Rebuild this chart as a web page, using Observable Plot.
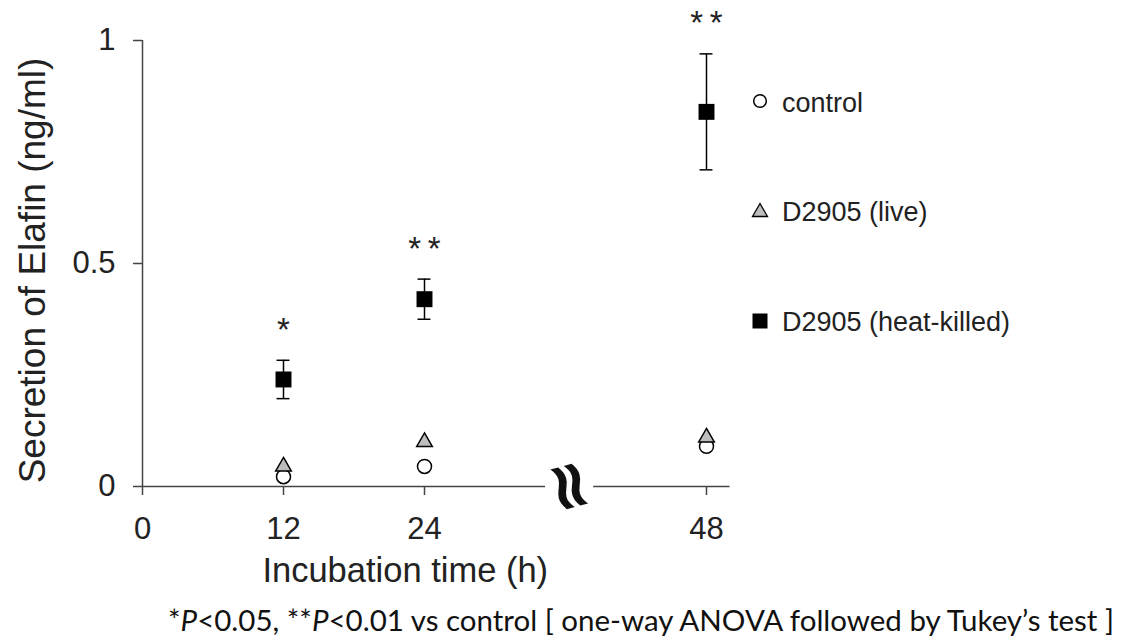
<!DOCTYPE html>
<html>
<head>
<meta charset="utf-8">
<script src="https://cdn.jsdelivr.net/npm/d3@7"></script>
<script src="https://cdn.jsdelivr.net/npm/@observablehq/plot@0.6"></script>
<style>
  body { margin: 0; background: #fff; }
  #wrap { position: relative; width: 1127px; height: 639px; overflow: hidden; font-family: "Liberation Sans", Arial, sans-serif; color: #222; }
  #chart { position: absolute; left: 0; top: 0; }
  .legmark { position: absolute; left: 751px; width: 18px; height: 18px; }
  .legtext { position: absolute; left: 782px; font-size: 27px; line-height: 27px; white-space: nowrap; color: #222; }
  #caption { position: absolute; left: 168px; top: 605px; font-family: Lato, "Open Sans", sans-serif; font-size: 29.5px; line-height: 29.5px; white-space: nowrap; color: #111; }
</style>
</head>
<body>
<div id="wrap">
  <div id="chart"></div>
  <div id="legend"></div>
  <div id="caption"></div>
</div>
<script>
// ---- data ----
const times = [12, 24, 48];                 // incubation time (h)
const control = [0.022, 0.045, 0.09];       // ng/ml
const live = [0.045, 0.10, 0.11];           // ng/ml
const heatKilled = [0.24, 0.42, 0.84];      // ng/ml
const heatKilledErr = [0.043, 0.045, 0.13]; // ± error
const significance = ["*", "**", "**"];
const xTicks = [0, 12, 24, 48];
const yTicks = [0, 0.5, 1];
const xDomain = [0, 50];
const yDomain = [0, 1];
const axisBreak = [34.3, 38.4];             // x-axis break between 24 h and 48 h
const seriesNames = ["control", "D2905 (live)", "D2905 (heat-killed)"];
const xLabel = "Incubation time (h)";
const yLabel = "Secretion of Elafin (ng/ml)";

const rows = times.map((t, i) => ({
  t, control: control[i], live: live[i], hk: heatKilled[i], err: heatKilledErr[i], sig: significance[i]
}));
const axisSegments = [[xDomain[0], axisBreak[0]], [axisBreak[1], xDomain[1]]];

const axisColor = "#444";
const chart = Plot.plot({
  width: 1127,
  height: 600,
  marginLeft: 142,
  marginRight: 397.5,
  marginTop: 40,
  marginBottom: 114,
  style: { fontFamily: "'Liberation Sans', Arial, sans-serif", background: "white", color: "#222", overflow: "visible" },
  x: { domain: xDomain },
  y: { domain: yDomain },
  marks: [
    Plot.axisY(yTicks, { tickSize: 9, tickPadding: 18, fontSize: 31, stroke: axisColor, strokeWidth: 1.5, label: null, tickFormat: d => String(d) }),
    Plot.axisX(xTicks, { tickSize: 9, tickPadding: 21, fontSize: 31, stroke: axisColor, strokeWidth: 1.5, label: null, tickFormat: d => String(d) }),
    Plot.ruleX([xDomain[0]], { y1: yDomain[0], y2: yDomain[1], stroke: axisColor, strokeWidth: 1.5 }),
    Plot.ruleY(axisSegments, { y: () => 0, x1: d => d[0], x2: d => d[1], stroke: axisColor, strokeWidth: 1.5 }),
    Plot.text(["\u2248"], { x: () => (axisBreak[0] + axisBreak[1]) / 2, y: () => 0, rotate: 75, fontSize: 68, fontFamily: "DejaVu Sans", fontWeight: "bold", fill: "#111", lineAnchor: "middle" }),
    // axis titles
    Plot.text([yLabel], { frameAnchor: "left", textAnchor: "middle", rotate: -90, dx: -109, dy: 7, fontSize: 37, fill: "#222", lineAnchor: "middle" }),
    Plot.text([xLabel], { frameAnchor: "bottom", dx: -31, dy: 84.5, fontSize: 34.5, fill: "#222", lineAnchor: "middle" }),
    // control
    Plot.dot(rows, { x: "t", y: "control", r: 7, fill: "white", stroke: "black", strokeWidth: 1.5 }),
    // live
    Plot.dot(rows, { x: "t", y: "live", symbol: "triangle", r: 5.8, fill: "#bdbdbd", stroke: "black", strokeWidth: 1.5 }),
    // heat-killed with error bars
    Plot.ruleX(rows, { x: "t", y1: d => d.hk - d.err, y2: d => d.hk + d.err, stroke: "black", strokeWidth: 1.5 }),
    Plot.ruleY(rows, { y: d => d.hk + d.err, x1: d => d.t - 0.55, x2: d => d.t + 0.55, stroke: "black", strokeWidth: 1.5 }),
    Plot.ruleY(rows, { y: d => d.hk - d.err, x1: d => d.t - 0.55, x2: d => d.t + 0.55, stroke: "black", strokeWidth: 1.5 }),
    Plot.dot(rows, { x: "t", y: "hk", symbol: "square", r: 9, fill: "black", stroke: "none" }),
    // significance markers
    Plot.text(rows, { x: "t", y: d => d.hk + d.err, text: d => d.sig.split("").join("\u2009"), dy: -30, fontSize: 33, fill: "#222", lineAnchor: "middle" })
  ]
});
document.getElementById("chart").appendChild(chart);

// ---- legend ----
const legendRows = [
  { name: seriesNames[0], cy: 101, base: 113, svg: '<circle cx="9" cy="9" r="6.3" fill="white" stroke="black" stroke-width="1.5"/>' },
  { name: seriesNames[1], cy: 210, base: 222, svg: '<polygon points="9,2.5 16.5,15.5 1.5,15.5" fill="#bdbdbd" stroke="black" stroke-width="1.3"/>' },
  { name: seriesNames[2], cy: 320.5, base: 332, svg: '<rect x="1.5" y="1.5" width="15" height="15" fill="black"/>' }
];
const legend = document.getElementById("legend");
for (const r of legendRows) {
  const m = document.createElement("div");
  m.className = "legmark";
  m.style.top = (r.cy - 9) + "px";
  m.innerHTML = '<svg width="18" height="18" viewBox="0 0 18 18">' + r.svg + '</svg>';
  legend.appendChild(m);
  const t = document.createElement("div");
  t.className = "legtext";
  t.style.top = (r.base - 23) + "px";
  t.textContent = r.name;
  legend.appendChild(t);
}

// ---- caption ----
const captionParts = [
  ["*", false], ["P", true], ["<0.05, **", false], ["P", true],
  ["<0.01 vs control [ one-way ANOVA followed by Tukey\u2019s test ]", false]
];
const cap = document.getElementById("caption");
for (const [s, it] of captionParts) {
  const span = document.createElement(it ? "i" : "span");
  span.textContent = s;
  cap.appendChild(span);
}
</script>
</body>
</html>
